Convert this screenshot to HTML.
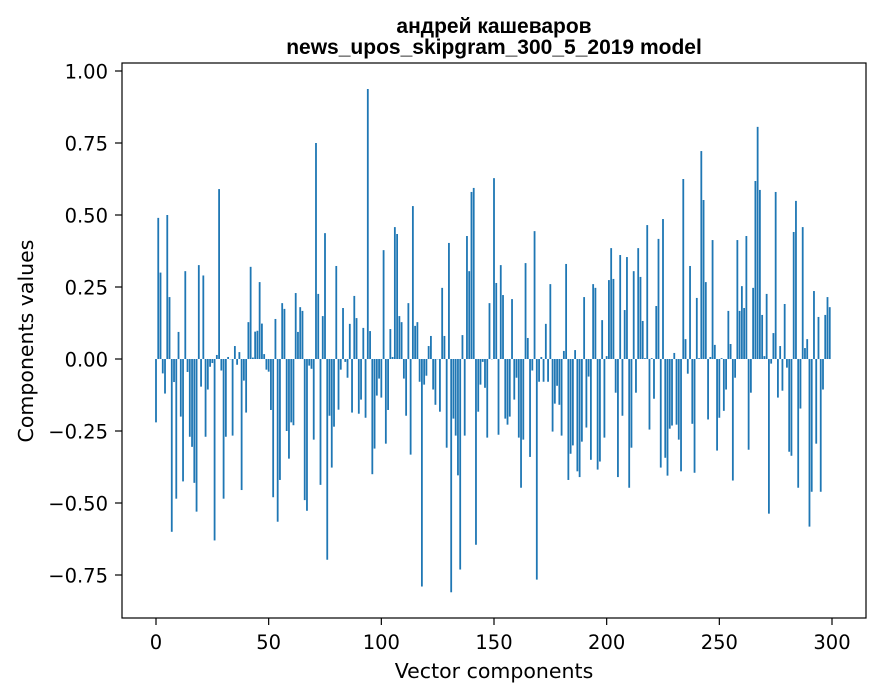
<!DOCTYPE html>
<html><head><meta charset="utf-8"><style>
html,body{margin:0;padding:0;background:#fff;}
svg{display:block;font-family:"DejaVu Sans","Liberation Sans",sans-serif;}
</style></head><body>
<svg id="chart" width="880" height="696" viewBox="0 0 880 696">
<rect x="0" y="0" width="880" height="696" fill="#fff"/>
<text x="494" y="33" text-anchor="middle" font-size="21" font-weight="bold" style="font-family:'Liberation Sans',sans-serif">андрей кашеваров</text>
<text x="494" y="54" text-anchor="middle" font-size="21" font-weight="bold" style="font-family:'Liberation Sans',sans-serif">news_upos_skipgram_300_5_2019 model</text>
<g id="bars"></g>
<g id="axes"></g>
<rect x="122" y="63" width="744" height="555" fill="none" stroke="#000" stroke-width="1.2"/>
<text x="494" y="678" text-anchor="middle" font-size="20.5">Vector components</text>
<text transform="translate(33,341) rotate(-90)" text-anchor="middle" font-size="20.5">Components values</text>
</svg>
<script>
const values = [
-0.22,0.49,0.30,-0.05,-0.12,0.50,0.215,-0.60,-0.08,-0.485,
0.094,-0.20,-0.425,0.305,-0.045,-0.27,-0.305,-0.43,-0.53,0.326,
-0.096,0.29,-0.27,-0.106,-0.027,-0.014,-0.63,0.014,0.59,-0.04,
-0.485,-0.27,0.007,0.0,-0.266,0.045,-0.02,0.024,-0.455,-0.075,
-0.186,0.128,0.32,0.005,0.095,0.098,0.267,0.123,0.017,-0.037,
-0.044,-0.177,-0.48,0.139,-0.565,-0.42,0.194,0.174,-0.25,-0.346,
-0.22,-0.23,0.229,0.094,0.18,0.167,-0.49,-0.527,-0.023,-0.034,
-0.28,0.75,0.226,-0.437,0.149,0.437,-0.697,-0.197,-0.377,-0.235,
0.323,-0.176,-0.037,0.177,-0.01,-0.065,0.122,-0.186,0.219,0.142,
-0.19,-0.141,0.108,-0.204,0.9375,0.097,-0.40,-0.311,-0.127,-0.068,
-0.134,0.378,-0.294,-0.177,0.104,0.007,0.458,0.434,0.149,0.128,
-0.068,-0.197,0.194,-0.332,0.531,0.115,0.128,-0.079,-0.79,-0.089,
-0.058,0.045,0.08,-0.106,-0.159,0.0,-0.183,0.247,0.08,-0.308,
0.403,-0.81,-0.207,-0.266,-0.404,-0.731,0.083,-0.266,0.427,0.305,
0.58,0.594,-0.645,-0.183,-0.089,-0.01,-0.1,-0.273,0.194,0.0,
0.628,0.264,-0.263,0.326,0.222,-0.207,-0.228,-0.2,0.208,-0.141,
-0.065,-0.273,-0.447,-0.28,0.333,0.073,-0.34,-0.04,0.444,-0.766,
-0.079,0.007,-0.079,0.122,-0.079,0.26,-0.252,-0.155,-0.093,-0.159,
-0.266,0.028,0.33,-0.42,-0.329,-0.30,0.031,-0.39,-0.41,-0.287,
0.215,-0.238,-0.061,-0.35,0.26,0.247,-0.384,-0.356,0.135,-0.273,
0.01,0.274,0.385,0.278,-0.117,-0.41,0.361,-0.197,0.17,0.354,
-0.447,-0.308,0.305,-0.117,0.385,0.285,0.132,0.003,0.465,-0.245,
0.003,-0.138,0.184,0.417,-0.377,0.486,-0.343,-0.405,-0.242,-0.231,
0.021,-0.228,-0.28,-0.39,0.625,0.069,-0.051,0.323,-0.225,-0.395,
0.212,0.003,0.722,0.552,0.267,-0.21,0.007,0.413,0.049,-0.318,
-0.204,0.003,-0.18,-0.106,0.167,0.052,-0.422,-0.065,0.413,0.167,
0.253,0.177,0.427,-0.315,-0.117,0.247,0.618,0.806,0.587,0.153,
0.01,0.226,-0.537,-0.016,0.09,0.58,-0.134,0.045,-0.11,0.191,
-0.03,-0.322,-0.336,0.441,0.549,-0.447,-0.172,0.458,0.038,0.069,
-0.582,-0.461,0.236,-0.294,0.146,-0.461,-0.106,0.153,0.215,0.18
];
const xTicks = [0,50,100,150,200,250,300];
const yTicks = [-0.75,-0.50,-0.25,0.00,0.25,0.50,0.75,1.00];
const yTickLabels = ["\u22120.75","\u22120.50","\u22120.25","0.00","0.25","0.50","0.75","1.00"];

const NS = "http://www.w3.org/2000/svg";
function xScale(v){ return 156 + v * (676/300); }
function yScale(v){ return 359 - v * 288; }
const barsG = document.getElementById('bars');
const bw = 0.8 * (676/300);
values.forEach(function(v, i){
  const r = document.createElementNS(NS, 'rect');
  const y0 = yScale(0), y1 = yScale(v);
  r.setAttribute('x', (xScale(i) - bw/2).toFixed(2));
  r.setAttribute('y', Math.min(y0, y1).toFixed(2));
  r.setAttribute('width', bw.toFixed(2));
  r.setAttribute('height', Math.max(Math.abs(y1 - y0), 0.3).toFixed(2));
  r.setAttribute('fill', '#1f77b4');
  
  
  barsG.appendChild(r);
});
const axesG = document.getElementById('axes');
xTicks.forEach(function(t){
  const x = xScale(t);
  const l = document.createElementNS(NS, 'line');
  l.setAttribute('x1', x); l.setAttribute('x2', x);
  l.setAttribute('y1', 618); l.setAttribute('y2', 625);
  l.setAttribute('stroke', '#000');
  l.setAttribute('stroke-width', '1.2');
  
  
  axesG.appendChild(l);
  const tx = document.createElementNS(NS, 'text');
  tx.setAttribute('x', x); tx.setAttribute('y', 649);
  tx.setAttribute('text-anchor', 'middle');
  tx.setAttribute('font-size', '19.5');
  tx.textContent = String(t);
  
  
  axesG.appendChild(tx);
});
yTicks.forEach(function(t, i){
  const y = yScale(t);
  const l = document.createElementNS(NS, 'line');
  l.setAttribute('x1', 115); l.setAttribute('x2', 122);
  l.setAttribute('y1', y); l.setAttribute('y2', y);
  l.setAttribute('stroke', '#000');
  l.setAttribute('stroke-width', '1.2');
  
  
  axesG.appendChild(l);
  const tx = document.createElementNS(NS, 'text');
  tx.setAttribute('x', 108); tx.setAttribute('y', y + 7.5);
  tx.setAttribute('text-anchor', 'end');
  tx.setAttribute('font-size', '19.5');
  tx.textContent = yTickLabels[i];
  
  
  axesG.appendChild(tx);
});
</script>
</body></html>
